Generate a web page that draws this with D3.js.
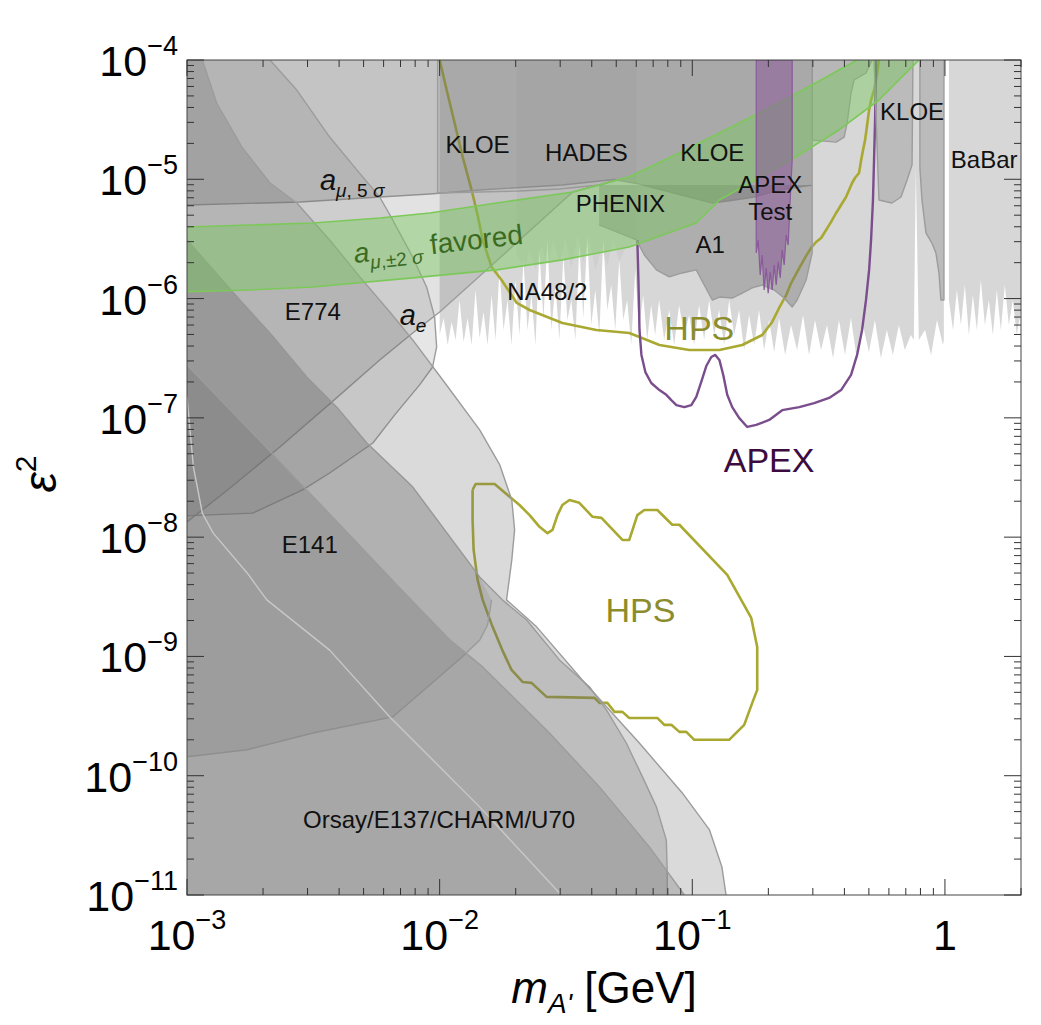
<!DOCTYPE html>
<html><head><meta charset="utf-8">
<script src="https://cdn.jsdelivr.net/npm/d3@7"></script>
<style>body{margin:0;background:#fff}svg{display:block}text{font-family:"Liberation Sans",Arial,sans-serif}</style>
</head><body><svg id="c" width="1041" height="1025"></svg>
<script>
// ---------- data: [mass (GeV), epsilon^2] ----------
const X_DOMAIN=[1e-3,2], Y_DOMAIN=[1e-11,1e-4];
const xMajor=[1e-3,1e-2,1e-1,1], xTickText=[["10","−3"],["10","−2"],["10","−1"],["1",""]];
const yMajor=[1e-11,1e-10,1e-9,1e-8,1e-7,1e-6,1e-5,1e-4];
const yTickExp=["−11","−10","−9","−8","−7","−6","−5","−4"];

const spikyNA=[[0.0100,4.95e-7],[0.01037,6.88e-7],[0.01076,4.08e-7],[0.01115,6.37e-7],[0.01157,4.50e-7],[0.01199,9.73e-7],[0.01244,4.33e-7],[0.0129,6.88e-7],[0.01338,4.08e-7],[0.01387,1.18e-6],[0.01439,4.67e-7],[0.01492,7.72e-7],[0.01548,4.08e-7],[0.01605,1.07e-6],[0.01664,4.50e-7],[0.01726,1.74e-6],[0.0179,5.46e-7],[0.01856,9.73e-7],[0.01925,4.08e-7],[0.01996,1.43e-6],[0.0207,4.95e-7],[0.02147,2.11e-6],[0.02226,5.46e-7],[0.02309,1.07e-6],[0.02394,4.08e-7],[0.02483,2.55e-6],[0.02575,6.62e-7],[0.0267,3.10e-6],[0.02769,5.46e-7],[0.02872,1.30e-6],[0.02978,4.50e-7],[0.03088,2.32e-6],[0.03203,6.62e-7],[0.03321,9.73e-7],[0.03444,4.50e-7],[0.03572,2.81e-6],[0.03704,6.88e-7],[0.03841,3.41e-6],[0.03983,6.01e-7],[0.04131,1.18e-6],[0.04284,4.95e-7],[0.04442,3.10e-6],[0.04607,8.02e-7],[0.04777,1.30e-6],[0.04954,5.46e-7],[0.05138,2.11e-6],[0.05328,6.62e-7],[0.05525,9.73e-7],[0.0573,4.08e-7],[0.05942,1.74e-6],[0.06162,5.46e-7],[0.0639,1.07e-6],[0.06627,4.50e-7],[0.06872,8.84e-7],[0.07127,4.95e-7],[0.0739,9.73e-7],[0.0774,4.50e-7],[0.0810,8.02e-7],[0.0848,4.08e-7],[0.0887,8.84e-7],[0.0928,4.95e-7],[0.0972,7.29e-7],[0.1017,4.08e-7],[0.1064,8.84e-7],[0.1114,4.50e-7],[0.1166,9.73e-7],[0.1220,4.95e-7],[0.1277,8.02e-7],[0.1337,4.08e-7],[0.1399,9.73e-7],[0.1464,4.95e-7],[0.1532,8.02e-7],[0.1604,3.71e-7],[0.1678,7.29e-7],[0.1757,4.08e-7],[0.1838,8.02e-7],[0.1924,3.71e-7],[0.2014,6.62e-7],[0.2108,3.57e-7],[0.2206,6.88e-7],[0.2330,3.37e-7],[0.2460,6.01e-7],[0.2598,3.71e-7],[0.2744,7.29e-7],[0.2898,3.37e-7],[0.3060,6.62e-7],[0.3232,3.71e-7],[0.3413,6.01e-7],[0.3605,3.18e-7],[0.3807,6.62e-7],[0.4021,3.37e-7],[0.4246,6.88e-7],[0.4484,3.06e-7],[0.4736,6.01e-7],[0.5001,3.57e-7],[0.5282,6.62e-7],[0.5578,3.18e-7],[0.5891,5.46e-7],[0.6221,3.37e-7],[0.6570,6.01e-7],[0.6938,3.71e-7],[0.7327,4.95e-7],[0.753,4.50e-7],[0.767,1.24e-5],[0.788,4.50e-7],[0.834,5.46e-7],[0.881,3.37e-7],[0.930,6.62e-7],[0.982,4.08e-7],[0.99,4.50e-7]];
const spikyNAClose=[[0.99,1e-4],[0.01,1e-4]];
const babar=[[1.037,9.73e-7],[1.076,5.46e-7],[1.115,1.18e-6],[1.157,6.01e-7],[1.199,1.30e-6],[1.244,4.95e-7],[1.290,1.07e-6],[1.338,5.46e-7],[1.387,1.43e-6],[1.439,6.01e-7],[1.492,9.73e-7],[1.548,4.95e-7],[1.605,1.18e-6],[1.664,5.46e-7],[1.726,1.30e-6],[1.790,6.01e-7],[1.856,9.73e-7],[1.925,4.95e-7],[2.0,8.02e-7]];
const babarClose=[[2.0,1e-4],[1.037,1e-4]];

// upper excluded envelope shared on the right by a_mu, a_e and KLOE
const kloeFloor=[[0.0617,9.13e-6],[0.0761,8.13e-6],[0.0973,7.10e-6],[0.120,6.33e-6],[0.147,6.71e-6],[0.176,7.10e-6],[0.221,8.13e-6],[0.298,8.96e-6]];
const amu5=[[1e-3,6.09e-6],[2.80e-3,6.45e-6],[5.79e-3,7.10e-6],[9.13e-3,7.53e-6],[1.44e-2,8.13e-6],[3.06e-2,8.96e-6],[5.01e-2,1.0e-5]];
const ae=[[1e-3,1.34e-8],[1.48e-3,2.58e-8],[2.33e-3,5.70e-8],[3.67e-3,1.31e-7],[5.79e-3,3.06e-7],[7.82e-3,5.15e-7],[1e-2,7.72e-7],[1.73e-2,2.19e-6],[3.36e-2,7.83e-6],[4.29e-2,8.96e-6],[5.01e-2,9.86e-6]];
const e774=[[2.13e-3,1e-4],[2.72e-3,5.60e-5],[3.67e-3,2.26e-5],[4.70e-3,1.20e-5],[5.79e-3,7.10e-6],[6.52e-3,4.56e-6],[7.82e-3,2.23e-6],[8.88e-3,1.25e-6],[9.55e-3,7.01e-7],[9.73e-3,3.93e-7],[9.38e-3,2.67e-7],[8.33e-3,1.89e-7],[6.64e-3,1.06e-7],[5.44e-3,6.16e-8],[3.67e-3,3.45e-8],[2.87e-3,2.49e-8],[1.82e-3,1.59e-8],[1.16e-3,1.53e-8],[1e-3,1.51e-8]];
const outer=[[1.15e-3,1e-4],[1.31e-3,4.36e-5],[1.65e-3,1.86e-5],[2.13e-3,9.31e-6],[2.72e-3,6.33e-6],[3.67e-3,3.10e-6],[4.83e-3,1.52e-6],[6.35e-3,7.72e-7],[7.82e-3,4.50e-7],[1.05e-2,1.96e-7],[1.44e-2,7.92e-8],[1.73e-2,4.03e-8],[1.93e-2,2.05e-8],[1.98e-2,1.15e-8],[1.93e-2,6.44e-9],[1.84e-2,2.98e-9],[2.42e-2,1.77e-9],[3.67e-2,6.35e-10],[6.17e-2,1.88e-10],[9.13e-2,7.17e-11],[0.117,3.51e-11],[0.131,1.72e-11],[0.136,1e-11]];
const e141=[[1e-3,3.10e-6],[1.62e-3,9.73e-7],[2.13e-3,5.15e-7],[2.98e-3,2.20e-7],[3.92e-3,1.23e-7],[5.15e-3,6.16e-8],[7.82e-3,2.64e-8],[1.44e-2,4.64e-9],[1.77e-2,2.98e-9],[2.21e-2,2.02e-9],[2.98e-2,9.35e-10],[3.92e-2,5.55e-10],[4.57e-2,3.56e-10],[5.48e-2,1.88e-10],[6.35e-2,9.77e-11],[7.21e-2,5.48e-11],[7.89e-2,2.90e-11],[7.96e-2,1.53e-11],[7.96e-2,1e-11]];
const bandLow=[[0.01605,2.98e-9],[0.01548,1.84e-9],[0.0144,1.37e-9],[0.01233,1.0e-9],[6.52e-3,3.11e-10],[3.15e-3,2.28e-10],[1.73e-3,1.65e-10],[1e-3,1.44e-10]];
const e137=[[1e-3,2.78e-7],[1.77e-3,7.92e-8],[2.80e-3,2.85e-8],[4.41e-3,1.04e-8],[6.95e-3,3.75e-9],[1.10e-2,1.37e-9],[1.48e-2,8.17e-10],[2.72e-2,2.28e-10],[4.29e-2,8.06e-11],[6.76e-2,2.53e-11],[9.30e-2,1e-11]];
const charmLine=[[1e-3,1.50e-7],[1.06e-3,3.88e-8],[1.15e-3,1.59e-8],[1.27e-3,1.08e-8],[1.73e-3,5.01e-9],[2.07e-3,2.98e-9],[3.67e-3,1.13e-9],[6.35e-3,3.11e-10],[1.44e-2,5.48e-11],[2.98e-2,1.04e-11]];

const kloe=[[9.82e-3,1e-4],[9.82e-3,7.68e-6],[1.44e-2,7.83e-6],[2.07e-2,7.98e-6],[2.98e-2,8.29e-6],[4.29e-2,8.96e-6],[5.01e-2,9.86e-6],[6.17e-2,9.13e-6],[7.61e-2,8.13e-6],[9.73e-2,7.10e-6],[0.120,6.33e-6],[0.147,6.71e-6],[0.176,7.10e-6],[0.221,8.13e-6],[0.298,8.96e-6],[0.298,1e-4]];
const kloeExt=[[0.298,2.13e-5],[0.371,2.05e-5],[0.399,2.26e-5],[0.410,2.96e-5],[0.425,5.29e-5],[0.437,6.80e-5],[0.487,7.78e-5],[0.515,1e-4]];
const phenix=[[0.0202,1e-4],[0.0202,2.32e-6],[0.0217,1.80e-6],[0.0227,2.55e-6],[0.0240,1.74e-6],[0.0253,2.81e-6],[0.0267,1.91e-6],[0.0282,3.10e-6],[0.0298,2.03e-6],[0.0315,3.22e-6],[0.0332,1.80e-6],[0.0351,3.41e-6],[0.0370,2.03e-6],[0.0392,3.10e-6],[0.0413,1.74e-6],[0.0437,2.55e-6],[0.0461,1.88e-6],[0.0487,3.10e-6],[0.0514,2.03e-6],[0.0544,2.66e-6],[0.0573,2.81e-6],[0.0601,3.10e-6],[0.0601,1e-4]];
const a1=[[0.0428,4.14e-6],[0.0601,3.10e-6],[0.0646,2.32e-6],[0.0721,1.74e-6],[0.0811,1.52e-6],[0.0913,1.64e-6],[0.1037,1.74e-6],[0.1115,1.30e-6],[0.1200,9.73e-7],[0.128,1.03e-6],[0.1439,1.01e-6],[0.1576,1.11e-6],[0.1727,1.23e-6],[0.1891,1.30e-6],[0.2110,1.18e-6],[0.2310,1.01e-6],[0.2485,8.50e-7],[0.2600,9.73e-7],[0.2822,1.43e-6],[0.2981,2.41e-6],[0.2981,8.96e-6]];
const a1Close=[[0.0428,8.96e-6]];
const kloeRa=[[0.524,1e-4],[0.548,6.71e-6],[0.617,6.33e-6],[0.670,7.10e-6],[0.708,9.86e-6],[0.741,1.32e-5],[0.747,1e-4]];
const kloeRb=[[0.796,1e-4],[0.796,1.24e-5],[0.811,6.71e-6],[0.841,3.55e-6],[0.888,2.92e-6],[0.921,2.41e-6],[0.947,1.64e-6],[0.964,9.73e-7],[0.991,9.73e-7],[0.991,1e-4]];
const apexTest=[[0.1791,1e-4],[0.1791,2.41e-6],[0.1823,3.10e-6],[0.1857,1.58e-6],[0.1891,2.32e-6],[0.1925,1.18e-6],[0.1961,1.80e-6],[0.1997,1.11e-6],[0.2034,1.67e-6],[0.2071,1.18e-6],[0.2110,1.91e-6],[0.2148,1.30e-6],[0.2188,2.03e-6],[0.2228,1.49e-6],[0.2269,2.55e-6],[0.2310,1.91e-6],[0.2353,3.41e-6],[0.2396,2.81e-6],[0.2440,6.71e-6],[0.2485,1.45e-5],[0.2485,1e-4]];

const gUpper=[[1e-3,3.98e-6],[1.77e-3,4.14e-6],[3.15e-3,4.30e-6],[5.79e-3,4.74e-6],[9.13e-3,5.22e-6],[1.68e-2,6.33e-6],[3.36e-2,7.83e-6],[5.63e-2,1.05e-5],[8.89e-2,1.66e-5],[0.128,2.44e-5],[0.184,3.59e-5],[0.265,5.39e-5],[0.381,8.25e-5],[0.449,1e-4]];
const gLower=[[1e-3,1.14e-6],[1.77e-3,1.18e-6],[3.15e-3,1.25e-6],[7.82e-3,1.49e-6],[1.68e-2,1.74e-6],[3.06e-2,2.11e-6],[5.63e-2,2.71e-6],[0.1037,4.30e-6],[0.128,6.71e-6],[0.184,1.03e-5],[0.265,1.60e-5],[0.381,2.59e-5],[0.548,4.62e-5],[0.789,1e-4]];

const hpsUpper=[[0.0100,1e-4],[0.01066,5.60e-5],[0.01146,2.96e-5],[0.01233,1.54e-5],[0.01338,8.13e-6],[0.01413,5.02e-6],[0.01480,3.10e-6],[0.01605,1.84e-6],[0.01758,1.43e-6],[0.0202,9.19e-7],[0.0227,8.02e-7],[0.0306,6.25e-7],[0.0417,5.46e-7],[0.0563,5.15e-7],[0.0618,4.77e-7],[0.0741,4.08e-7],[0.0973,3.71e-7],[0.128,3.71e-7],[0.1576,4.08e-7],[0.1891,4.95e-7],[0.2071,6.37e-7],[0.2206,8.34e-7],[0.2353,1.07e-6],[0.2462,1.35e-6],[0.265,1.80e-6],[0.2822,2.28e-6],[0.2953,2.66e-6],[0.309,2.98e-6],[0.3235,3.22e-6],[0.3385,3.76e-6],[0.3543,4.39e-6],[0.371,5.22e-6],[0.388,6.09e-6],[0.406,7.10e-6],[0.4174,8.13e-6],[0.429,9.31e-6],[0.441,1.03e-5],[0.457,1.13e-5],[0.466,1.45e-5],[0.474,1.76e-5],[0.483,2.13e-5],[0.492,2.85e-5],[0.501,3.81e-5],[0.510,4.62e-5],[0.524,5.60e-5],[0.538,7.48e-5],[0.548,1e-4]];
const hpsLower=[[0.0135,2.49e-8],[0.01388,2.79e-8],[0.0165,2.79e-8],[0.01857,2.26e-8],[0.0207,1.86e-8],[0.0227,1.53e-8],[0.02485,1.22e-8],[0.02673,1.08e-8],[0.02797,1.15e-8],[0.02927,1.53e-8],[0.0306,1.86e-8],[0.03265,2.05e-8],[0.0357,1.94e-8],[0.0403,1.48e-8],[0.0437,1.45e-8],[0.0529,9.47e-9],[0.0563,9.47e-9],[0.0606,1.53e-8],[0.0646,1.69e-8],[0.0727,1.69e-8],[0.0833,1.27e-8],[0.0889,1.27e-8],[0.1375,4.82e-9],[0.1711,2.10e-9],[0.1807,1.20e-9],[0.1807,5.24e-10],[0.1727,4.08e-10],[0.1605,2.67e-10],[0.1399,2.00e-10],[0.1018,2.00e-10],[0.0947,2.33e-10],[0.0889,2.33e-10],[0.0826,2.67e-10],[0.0775,2.67e-10],[0.0727,3.05e-10],[0.0563,3.05e-10],[0.0529,3.43e-10],[0.0492,3.43e-10],[0.0461,4.08e-10],[0.0429,4.08e-10],[0.0410,4.49e-10],[0.0265,4.58e-10],[0.0231,6.00e-10],[0.0213,6.11e-10],[0.01925,7.71e-10],[0.0177,1.13e-9],[0.0162,1.77e-9],[0.0148,2.98e-9],[0.01413,4.38e-9],[0.01363,7.81e-9],[0.0135,1.39e-8],[0.0135,2.49e-8]];
const apex=[[0.0606,3.10e-6],[0.0612,1.43e-6],[0.0618,5.46e-7],[0.0629,3.37e-7],[0.0652,2.42e-7],[0.0688,1.96e-7],[0.0741,1.71e-7],[0.0789,1.56e-7],[0.0826,1.41e-7],[0.0865,1.28e-7],[0.0930,1.23e-7],[0.0991,1.28e-7],[0.1037,1.50e-7],[0.1085,2.00e-7],[0.1136,2.72e-7],[0.1189,3.24e-7],[0.1233,3.37e-7],[0.128,3.06e-7],[0.1326,2.29e-7],[0.1375,1.56e-7],[0.1439,1.23e-7],[0.1532,1.0e-7],[0.165,8.39e-8],[0.1791,8.72e-8],[0.2015,9.60e-8],[0.2269,1.16e-7],[0.265,1.23e-7],[0.3035,1.33e-7],[0.348,1.47e-7],[0.388,1.71e-7],[0.425,2.29e-7],[0.449,3.37e-7],[0.470,5.46e-7],[0.487,9.73e-7],[0.501,1.74e-6],[0.510,3.10e-6],[0.519,6.71e-6],[0.524,1.45e-5],[0.529,3.14e-5],[0.534,1e-4]];

const labels=[
 {t:"KLOE",m:0.01413,e:1.94e-5},{t:"HADES",m:0.0381,e:1.69e-5},{t:"KLOE",m:0.120,e:1.69e-5},
 {t:"KLOE",m:0.741,e:3.67e-5},{t:"BaBar",m:1.43,e:1.45e-5},{t:"APEX",m:0.2034,e:8.96e-6},
 {t:"Test",m:0.2034,e:5.32e-6},{t:"PHENIX",m:0.0519,e:6.21e-6},{t:"A1",m:0.1178,e:2.81e-6},
 {t:"NA48/2",m:0.0267,e:1.14e-6},{t:"E774",m:3.15e-3,e:7.72e-7},{t:"E141",m:3.06e-3,e:8.60e-9},
 {t:"Orsay/E137/CHARM/U70",m:0.00995,e:4.26e-11}];
const bigLabels=[{t:"HPS",m:0.1066,e:5.67e-7,c:"#8c8c2c"},{t:"HPS",m:0.0623,e:2.45e-9,c:"#8c8c2c"},{t:"APEX",m:0.2014,e:4.44e-8,c:"#3c0c40"}];

// ---------- drawing ----------
const L=187,R=1021,T=60,B=895;
const x=d3.scaleLog().domain(X_DOMAIN).range([L,R]);
const y=d3.scaleLog().domain(Y_DOMAIN).range([B,T]);
const svg=d3.select("#c");
svg.append("defs").append("clipPath").attr("id","clip").append("rect").attr("x",L).attr("y",T).attr("width",R-L).attr("height",B-T);
const g=svg.append("g").attr("clip-path","url(#clip)");
const line=d3.line().x(d=>x(d[0])).y(d=>y(d[1]));
const GRAY="#6c6c6c", EDGE="#9c9c9c";
function region(edge,close,op,stroke){
  g.append("path").attr("d",line(edge.concat(close||[]))+"Z").attr("fill",GRAY).attr("fill-opacity",op);
  if(stroke) g.append("path").attr("d",line(edge)).attr("fill","none").attr("stroke",stroke).attr("stroke-width",1.4).attr("stroke-linejoin","round");
}
function curve(data,color,w){
  g.append("path").attr("d",line(data)).attr("fill","none").attr("stroke",color).attr("stroke-width",w).attr("stroke-linejoin","round");
}
const topRight=[[0.298,1e-4],[1e-3,1e-4]];
region(spikyNA,spikyNAClose,0.27,null);
region(babar,babarClose,0.27,null);
curve(hpsUpper,"#a9a932",2.6);
curve(hpsLower,"#a9a932",2.6);
curve(apex,"#7a4d8c",2.4);
region(amu5,kloeFloor.concat(topRight),0.25,null); curve(amu5,EDGE,1.4);
region(ae,kloeFloor.concat(topRight),0.2,null); curve(ae,EDGE,1.4);
region(e774,[[1e-3,1e-4]],0.17,EDGE);
region(outer,[[1e-3,1e-11],[1e-3,1e-4]],0.25,EDGE);
region(e141,[[1e-3,1e-11]],0.25,EDGE);
g.append("path").attr("d",line(e141.slice(0,8).concat(bandLow))+"Z").attr("fill",GRAY).attr("fill-opacity",0.15);
curve(bandLow,EDGE,1.4);
region(e137,[[1e-3,1e-11]],0.28,EDGE);
curve(charmLine,"#c8c8c8",1.4);
region(kloe,[],0.05,EDGE);
region(kloeExt,[[0.298,1e-4]],0.3,EDGE);
region(phenix,[],0.07,null);
region(a1,a1Close,0.38,EDGE);
region(kloeRa,[],0.26,EDGE);
region(kloeRb,[],0.26,EDGE);
g.append("path").attr("d",line(gUpper.concat(gLower.slice().reverse()))+"Z").attr("fill","#78c85a").attr("fill-opacity",0.45);
curve(gUpper,"#7cc95a",1.6);curve(gLower,"#7cc95a",1.6);
g.append("path").attr("d",line(apexTest)+"Z").attr("fill","#8a5a9a").attr("fill-opacity",0.55).attr("stroke","#8a5a9a").attr("stroke-width",1.2);

// labels
const lab=svg.append("g");
labels.forEach(d=>lab.append("text").attr("x",x(d.m)).attr("y",y(d.e)).attr("dy","0.35em").attr("text-anchor","middle").attr("font-size",24).attr("fill","#111").text(d.t));
bigLabels.forEach(d=>lab.append("text").attr("x",x(d.m)).attr("y",y(d.e)).attr("dy","0.35em").attr("text-anchor","middle").attr("font-size",34).attr("fill",d.c).text(d.t));
let t=lab.append("text").attr("x",x(3.36e-3)).attr("y",y(8.13e-6)).attr("fill","#111").attr("font-size",29);
t.append("tspan").attr("font-style","italic").text("a");
t.append("tspan").attr("font-size",19).attr("dy",7).attr("font-style","italic").text("μ");
t.append("tspan").attr("font-size",19).text(", 5 ");
t.append("tspan").attr("font-size",19).attr("font-style","italic").text("σ");
t=lab.append("text").attr("x",x(6.95e-3)).attr("y",y(6.01e-7)).attr("fill","#111").attr("font-size",29);
t.append("tspan").attr("font-style","italic").text("a");
t.append("tspan").attr("font-size",19).attr("dy",7).attr("font-style","italic").text("e");
const gx=x(4.61e-3), gy=y(1.99e-6);
t=lab.append("text").attr("x",gx).attr("y",gy).attr("fill","#3b6b1f").attr("font-size",28).attr("transform",`rotate(-6.5,${gx},${gy})`);
t.append("tspan").attr("font-style","italic").text("a");
t.append("tspan").attr("font-size",19).attr("dy",8).attr("font-style","italic").text("μ");
t.append("tspan").attr("font-size",19).text(",±2 ");
t.append("tspan").attr("font-size",19).attr("font-style","italic").text("σ");
t.append("tspan").attr("dy",-8).text(" favored");

// frame & ticks
const ax=svg.append("g").attr("stroke","#333").attr("stroke-width",1);
ax.append("rect").attr("x",L).attr("y",T).attr("width",R-L).attr("height",B-T).attr("fill","none").attr("stroke","#444");
const xt=[],yt=[];
for(let k=-3;k<=0;k++)for(let j=1;j<=9;j++){const v=j*Math.pow(10,k);if(v<=2.0001)xt.push([v,j===1]);}
for(let k=-11;k<=-5;k++)for(let j=1;j<=9;j++){yt.push([j*Math.pow(10,k),j===1]);}
yt.push([1e-4,true]);
xt.forEach(([v,maj])=>{const px=x(v),len=maj?16:7;
  ax.append("line").attr("x1",px).attr("x2",px).attr("y1",B).attr("y2",B-len);
  ax.append("line").attr("x1",px).attr("x2",px).attr("y1",T).attr("y2",T+len);});
yt.forEach(([v,maj])=>{const py=y(v),len=maj?17:7;
  ax.append("line").attr("y1",py).attr("y2",py).attr("x1",L).attr("x2",L+len);
  ax.append("line").attr("y1",py).attr("y2",py).attr("x1",R).attr("x2",R-len);});
const tl=svg.append("g").attr("fill","#000");
xMajor.forEach((v,i)=>{const tt=tl.append("text").attr("x",x(v)).attr("y",950).attr("text-anchor","middle").attr("font-size",43);
  tt.append("tspan").text(xTickText[i][0]);
  if(xTickText[i][1]) tt.append("tspan").attr("font-size",27).attr("dy",-21).text(xTickText[i][1]);});
yMajor.forEach((v,i)=>{const tt=tl.append("text").attr("x",178).attr("y",y(v)+16).attr("text-anchor","end").attr("font-size",43);
  tt.append("tspan").text("10");
  tt.append("tspan").attr("font-size",27).attr("dy",-21).text(yTickExp[i]);});
t=svg.append("text").attr("x",604).attr("y",1003).attr("text-anchor","middle").attr("font-size",44).attr("fill","#000");
t.append("tspan").attr("font-style","italic").text("m");
t.append("tspan").attr("font-style","italic").attr("font-size",28).attr("dy",10).text("A'");
t.append("tspan").attr("dy",-10).text(" [GeV]");
t=svg.append("text").attr("transform","translate(56,474) rotate(-90)").attr("text-anchor","middle").attr("font-size",46).attr("fill","#000");
t.append("tspan").attr("font-style","italic").text("ε");
t.append("tspan").attr("font-size",30).attr("dy",-20).text("2");
</script></body></html>
